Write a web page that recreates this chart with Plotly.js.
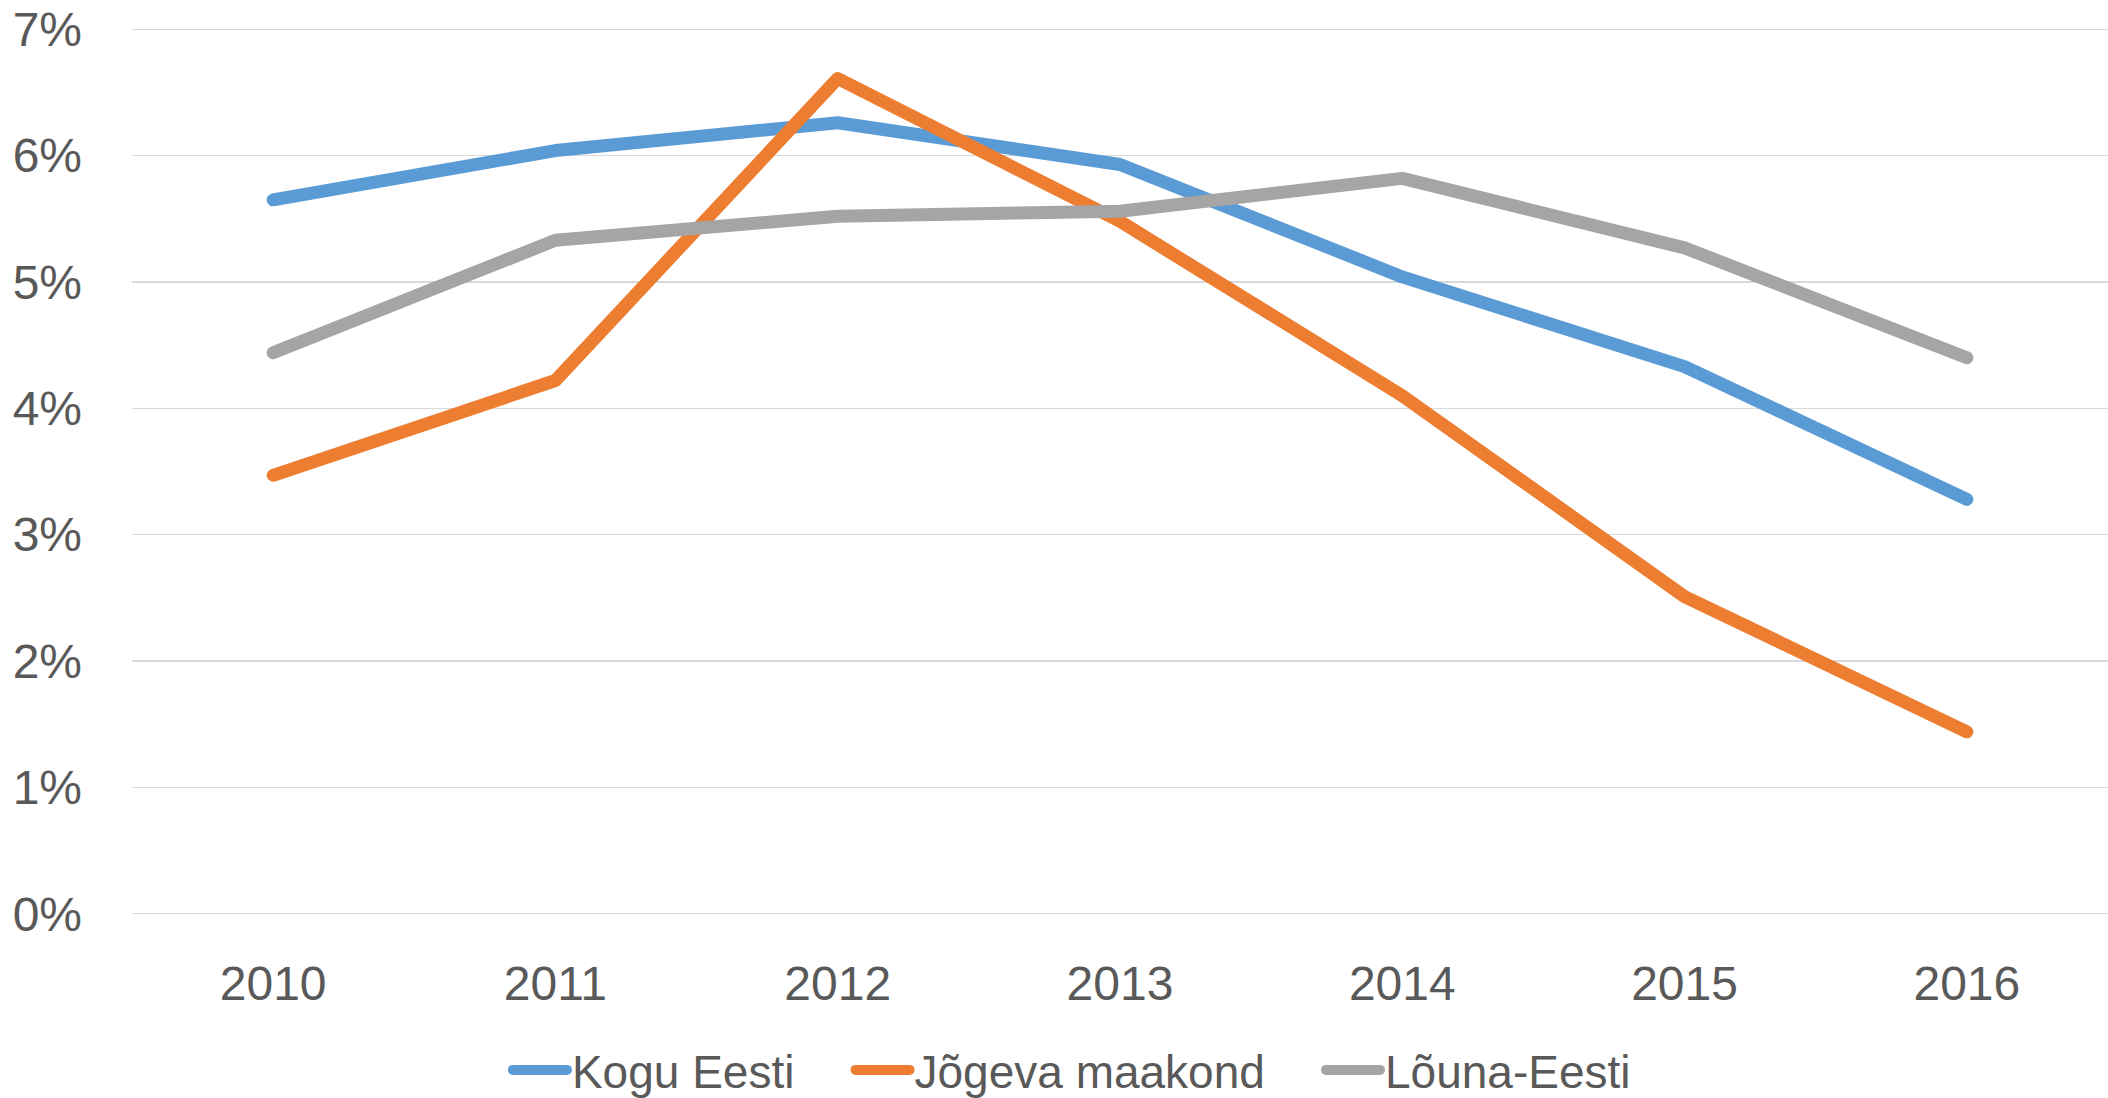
<!DOCTYPE html>
<html>
<head>
<meta charset="utf-8">
<script src="https://cdn.plot.ly/plotly-3.0.1.min.js"></script>
<style>
html, body { margin: 0; padding: 0; background: #fff; }
#chart { width: 2108px; height: 1098px; }
path.js-line { stroke-linecap: round; stroke-linejoin: round; }
</style>
</head>
<body>
<div id="chart"></div>
<script>
const years = ['2010', '2011', '2012', '2013', '2014', '2015', '2016'];
const koguEesti = [5.65, 6.04, 6.26, 5.93, 5.04, 4.33, 3.28];
const jogevaMaakond = [3.47, 4.22, 6.61, 5.48, 4.10, 2.51, 1.44];
const lounaEesti = [4.44, 5.33, 5.52, 5.56, 5.82, 5.27, 4.40];
const seriesNames = ['Kogu Eesti', 'Jõgeva maakond', 'Lõuna-Eesti'];
const yTicks = [0, 1, 2, 3, 4, 5, 6, 7];

const colors = ['#5B9BD5', '#ED7D31', '#A5A5A5'];
const seriesData = [koguEesti, jogevaMaakond, lounaEesti];
const pad = '\u00A0\u00A0\u00A0\u00A0';

const traces = seriesData.map((vals, i) => ({
  type: 'scatter',
  mode: 'lines',
  x: years,
  y: vals,
  name: i < seriesData.length - 1 ? seriesNames[i] + pad : seriesNames[i],
  line: { color: colors[i], width: 13 },
  hoverinfo: 'x+y+name'
}));

const fontFam = '"Liberation Sans", Arial, sans-serif';

const layout = {
  width: 2108,
  height: 1098,
  paper_bgcolor: '#ffffff',
  plot_bgcolor: '#ffffff',
  margin: { l: 132, r: 0, t: 28, b: 183 },
  font: { family: fontFam, color: '#595959', size: 46 },
  showlegend: true,
  legend: {
    orientation: 'h',
    xref: 'container',
    yref: 'container',
    x: 0.5085,
    xanchor: 'center',
    y: 0.0255,
    yanchor: 'middle',
    font: { family: fontFam, color: '#595959', size: 46 },
    itemwidth: 54,
    tracegroupgap: 0,
    bgcolor: 'rgba(0,0,0,0)'
  },
  xaxis: {
    type: 'category',
    range: [-0.5, 6.5],
    showgrid: false,
    zeroline: false,
    showline: false,
    ticks: '',
    tickfont: { family: fontFam, color: '#595959', size: 48 },
    ticklabelstandoff: 36,
    fixedrange: true
  },
  yaxis: {
    range: [-0.01, 7.01],
    tickvals: yTicks,
    ticktext: yTicks.map(v => v + '%'),
    showgrid: true,
    gridcolor: '#D9D9D9',
    gridwidth: 1.5,
    zeroline: false,
    showline: false,
    ticks: '',
    tickfont: { family: fontFam, color: '#595959', size: 48 },
    ticklabelstandoff: 49,
    fixedrange: true
  }
};

Plotly.newPlot('chart', traces, layout, { displayModeBar: false, staticPlot: true });
</script>
</body>
</html>
